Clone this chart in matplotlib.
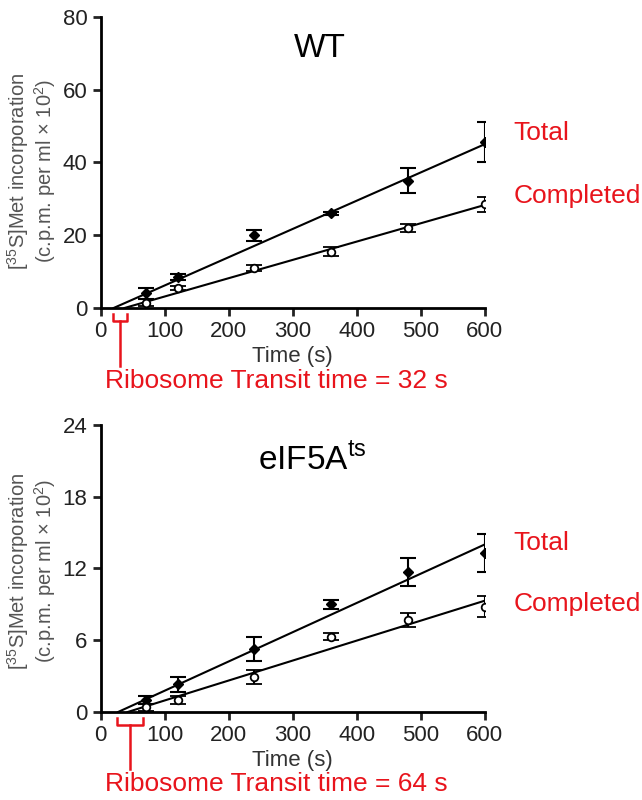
import matplotlib
matplotlib.use("Agg")
import matplotlib.pyplot as plt

plt.rcParams["font.family"] = ["Liberation Sans", "DejaVu Sans"]

RED = "#e8141c"

time_s = [70, 120, 240, 360, 480, 600]

# WT
wt_total = [4.0, 8.5, 20.0, 26.0, 35.0, 45.5]
wt_total_err = [1.5, 0.8, 1.5, 0.5, 3.5, 5.5]
wt_completed = [1.5, 5.5, 11.0, 15.5, 22.0, 28.5]
wt_completed_err = [1.0, 0.6, 0.8, 1.2, 1.0, 2.0]
wt_fit_total = ([20, 600], [0, 45.0])
wt_fit_completed = ([37, 600], [0, 28.3])

# eIF5A ts
ts_total = [1.0, 2.3, 5.3, 9.0, 11.7, 13.3]
ts_total_err = [0.3, 0.6, 1.0, 0.4, 1.2, 1.6]
ts_completed = [0.4, 1.0, 2.9, 6.3, 7.7, 8.8]
ts_completed_err = [0.3, 0.3, 0.6, 0.3, 0.6, 0.9]
ts_fit_total = ([27, 600], [0, 14.0])
ts_fit_completed = ([42, 600], [0, 9.3])

panels = [
    dict(rect=[0.157, 0.615, 0.598, 0.364], ymax=80, yticks=[0, 20, 40, 60, 80],
         title="WT", title_xy=(0.57, 0.89), total=wt_total, terr=wt_total_err,
         comp=wt_completed, cerr=wt_completed_err, ftot=wt_fit_total,
         fcomp=wt_fit_completed, lab_y=(0.60, 0.385), ylab_y=0.47,
         bracket=(19, 41), note="Ribosome Transit time = 32 s"),
    dict(rect=[0.157, 0.110, 0.598, 0.359], ymax=24, yticks=[0, 6, 12, 18, 24],
         title="eIF5A$^{\\mathregular{ts}}$", title_xy=(0.55, 0.88),
         total=ts_total, terr=ts_total_err, comp=ts_completed,
         cerr=ts_completed_err, ftot=ts_fit_total, fcomp=ts_fit_completed,
         lab_y=(0.59, 0.375), ylab_y=0.49, bracket=(25, 66),
         note="Ribosome Transit time = 64 s"),
]

fig = plt.figure(figsize=(6.42, 8.0), dpi=100)

for p in panels:
    ax = fig.add_axes(p["rect"])
    ax.plot(*p["ftot"], color="black", lw=1.5, zorder=2)
    ax.plot(*p["fcomp"], color="black", lw=1.5, zorder=2)
    ax.errorbar(time_s, p["total"], yerr=p["terr"], fmt="D", color="black",
                ms=5, capsize=6, elinewidth=1.5, capthick=1.5, zorder=3)
    ax.errorbar(time_s, p["comp"], yerr=p["cerr"], fmt="o", color="black",
                mfc="white", mew=1.3, ms=5.5, capsize=6, elinewidth=1.5,
                capthick=1.5, zorder=3)
    ax.set_xlim(0, 600)
    ax.set_ylim(0, p["ymax"])
    ax.set_xticks([0, 100, 200, 300, 400, 500, 600])
    ax.set_yticks(p["yticks"])
    for s in ["top", "right"]:
        ax.spines[s].set_visible(False)
    for s in ["left", "bottom"]:
        ax.spines[s].set_linewidth(2)
    ax.tick_params(width=2, length=6, labelsize=16, colors="#222222")
    ax.set_xlabel("Time (s)", fontsize=16, color="#333333", labelpad=3)
    ax.set_ylabel("[$^{\\mathregular{35}}$S]Met incorporation\n(c.p.m. per ml \u00d7 10$^{\\mathregular{2}}$)",
                  fontsize=14.5, color="#555555", linespacing=1.05)
    ax.yaxis.set_label_coords(-0.112, p["ylab_y"])
    ax.text(*p["title_xy"], p["title"], transform=ax.transAxes, fontsize=24,
            ha="center", va="center")
    ax.text(1.075, p["lab_y"][0], "Total", transform=ax.transAxes,
            fontsize=19, color=RED, va="center")
    ax.text(1.075, p["lab_y"][1], "Completed", transform=ax.transAxes,
            fontsize=19, color=RED, va="center")

    # bracket for transit time
    x0, x1 = p["bracket"]
    xm = (x0 + x1) / 2
    tr = ax.get_xaxis_transform()
    ax.plot([x0, x0, x1, x1], [-0.02, -0.045, -0.045, -0.02], color=RED, lw=1.8,
            transform=tr, clip_on=False)
    ax.plot([xm, xm], [-0.045, -0.2], color=RED, lw=1.8, transform=tr, clip_on=False)
    ax.text(7, -0.25, p["note"], transform=tr, fontsize=19, color=RED,
            va="center", ha="left")

fig.savefig("out.png", dpi=100)
